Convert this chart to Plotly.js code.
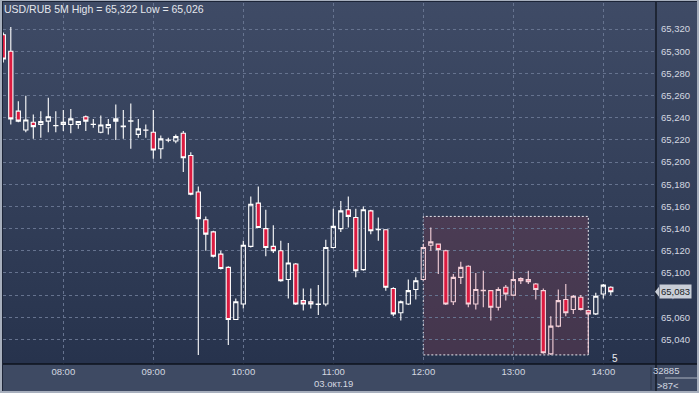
<!DOCTYPE html>
<html>
<head>
<meta charset="utf-8">
<script src="https://cdn.plot.ly/plotly-3.0.1.min.js"></script>
<style>
  html, body { margin:0; padding:0; background:#2b3750; }
  #wrap { position:relative; width:699px; height:393px; overflow:hidden;
          background:linear-gradient(to bottom, #3f4b66 0%, #34405a 45%, #27334d 92%, #27334d 100%); }
  #band { position:absolute; left:0; top:364px; width:699px; height:29px; background:#3e4a63; }
  #chart { position:absolute; left:0; top:0; width:699px; height:393px; }
  #frame { position:absolute; left:0; top:0; width:699px; height:393px; box-sizing:border-box;
           border:1px solid #a7afbd; border-left-width:2px; border-bottom-width:2px; border-right-width:2px;
           box-shadow: inset 0 1px 0 #1c2437, inset 1px 0 0 #1c2437; pointer-events:none; }
</style>
</head>
<body>
<div id="wrap">
  <div id="band"></div>
  <div id="chart"></div>
  <div id="frame"></div>
</div>
<script>
// ---- data (USD/RUB, 5-minute candles, 03.10.2019) ----
const day = '2019-10-03';
const times = ['07:20','07:25','07:30','07:35','07:40','07:45','07:50','07:55',
  '08:00','08:05','08:10','08:15','08:20','08:25','08:30','08:35','08:40','08:45','08:50','08:55',
  '09:00','09:05','09:10','09:15','09:20','09:25','09:30','09:35','09:40','09:45','09:50','09:55',
  '10:00','10:05','10:10','10:15','10:20','10:25','10:30','10:35','10:40','10:45','10:50','10:55',
  '11:00','11:05','11:10','11:15','11:20','11:25','11:30','11:35','11:40','11:45','11:50','11:55',
  '12:00','12:05','12:10','12:15','12:20','12:25','12:30','12:35','12:40','12:45','12:50','12:55',
  '13:00','13:05','13:10','13:15','13:20','13:25','13:30','13:35','13:40','13:45','13:50','13:55',
  '14:00','14:05'];
const open = [65.315,65.300,65.246,65.229,65.236,65.234,65.237,65.233,
  65.234,65.234,65.234,65.241,65.234,65.227,65.231,65.237,65.232,65.237,65.225,65.229,
  65.227,65.212,65.220,65.219,65.226,65.206,65.173,65.148,65.137,65.117,65.105,65.058,
  65.072,65.124,65.163,65.140,65.124,65.120,65.094,65.108,65.075,65.074,65.072,65.072,
  65.123,65.140,65.157,65.150,65.103,65.156,65.139,65.139,65.086,65.064,65.072,65.085,
  65.094,65.125,65.126,65.120,65.074,65.096,65.106,65.072,65.084,65.084,65.069,65.087,
  65.080,65.095,65.094,65.090,65.084,65.027,65.052,65.076,65.067,65.078,65.066,65.063,
  65.081,65.087];
const high = [65.317,65.322,65.255,65.260,65.243,65.246,65.258,65.246,
  65.247,65.248,65.237,65.242,65.239,65.242,65.239,65.252,65.247,65.253,65.239,65.234,
  65.247,65.224,65.222,65.225,65.228,65.209,65.178,65.151,65.138,65.120,65.106,65.077,
  65.129,65.169,65.178,65.157,65.143,65.129,65.127,65.109,65.086,65.086,65.089,65.130,
  65.158,65.165,65.169,65.158,65.160,65.157,65.150,65.139,65.087,65.075,65.094,65.096,
  65.126,65.141,65.126,65.121,65.099,65.110,65.107,65.100,65.102,65.084,65.087,65.089,
  65.102,65.096,65.102,65.091,65.086,65.061,65.085,65.090,65.080,65.080,65.067,65.082,
  65.090,65.088];
const low = [65.290,65.234,65.236,65.227,65.221,65.222,65.227,65.227,
  65.228,65.226,65.230,65.228,65.231,65.226,65.225,65.220,65.221,65.212,65.222,65.222,
  65.203,65.203,65.218,65.217,65.191,65.170,65.026,65.120,65.114,65.103,65.035,65.058,
  65.068,65.123,65.141,65.115,65.118,65.092,65.077,65.071,65.066,65.068,65.062,65.070,
  65.122,65.137,65.141,65.096,65.102,65.135,65.129,65.084,65.061,65.057,65.071,65.076,
  65.093,65.120,65.099,65.071,65.071,65.090,65.069,65.067,65.069,65.057,65.066,65.075,
  65.079,65.090,65.090,65.076,65.027,65.026,65.051,65.061,65.063,65.066,65.027,65.062,
  65.077,65.080];
const close = [65.293,65.239,65.237,65.238,65.232,65.2365,65.241,65.2328,
  65.236,65.239,65.2365,65.237,65.2342,65.2335,65.234,65.239,65.2325,65.2372,65.230,65.2288,
  65.211,65.221,65.2198,65.223,65.204,65.171,65.149,65.135,65.115,65.104,65.058,65.074,
  65.125,65.162,65.141,65.123,65.120,65.093,65.109,65.072,65.072,65.072,65.0715,65.123,
  65.142,65.156,65.151,65.102,65.157,65.138,65.1393,65.087,65.063,65.074,65.084,65.093,
  65.123,65.128,65.121,65.072,65.096,65.105,65.072,65.085,65.0843,65.069,65.085,65.081,
  65.094,65.093,65.092,65.085,65.028,65.052,65.075,65.064,65.079,65.067,65.063,65.079,
  65.089,65.083];
const zoneStart = '12:00', zoneEnd = '13:50';
const zoneTop = 65.151, zoneBottom = 65.026;
const hourTicks = ['08:00','09:00','10:00','11:00','12:00','13:00','14:00'];
const priceTicks = [65.04,65.06,65.08,65.10,65.12,65.14,65.16,65.18,65.20,65.22,65.24,65.26,65.28,65.30,65.32];
const dateLabel = '03.окт.19';
const volumeText = '32885', spreadText = '>87<', countText = '5';

// ---- helpers ----
const ts = t => day + ' ' + t + ':00';
const fmt = v => v.toFixed(3).replace('.', ',');
const W = 699, H = 393, L = 3, R = 43, T = 3, B = 29;
const pw = W - L - R, ph = H - T - B;
const px = x => (x - L) / pw;          // pixel -> paper x
const py = y => (H - B - y) / ph;      // pixel -> paper y

function subset(pred) {
  const o = {x:[], open:[], high:[], low:[], close:[]};
  times.forEach((t, i) => {
    if (pred(t)) { o.x.push(ts(t)); o.open.push(open[i]); o.high.push(high[i]); o.low.push(low[i]); o.close.push(close[i]); }
  });
  return o;
}
const inZone = t => t >= zoneStart && t <= zoneEnd;
const outer = subset(t => !inZone(t));
const inner = subset(inZone);

function candle(d, lineCol) {
  return Object.assign({
    type:'candlestick', whiskerwidth:0, hoverinfo:'skip', showlegend:false,
    increasing:{line:{color:lineCol, width:1.1}, fillcolor:'rgba(0,0,0,0)'},
    decreasing:{line:{color:lineCol, width:1.1}, fillcolor:'#dc1b40'}
  }, d);
}

const hi = Math.max(...high), lo = Math.min(...low);
const last = close[close.length - 1];
const txt = '#d4d8e0';
const font = 'Liberation Sans, Arial, sans-serif';

const layout = {
  width: W, height: H,
  margin: {l:L, r:R, t:T, b:B, pad:0},
  paper_bgcolor:'rgba(0,0,0,0)', plot_bgcolor:'rgba(0,0,0,0)',
  separators: ', ',
  boxgap: 0.2,
  hovermode: false,
  showlegend: false,
  font: {family: font, size: 9, color: txt},
  title: {text: 'USD/RUB 5M High = ' + fmt(hi) + ' Low = ' + fmt(lo),
          x: 4/W, xanchor:'left', xref:'container', y: 1 - 9/H, yanchor:'middle', yref:'container',
          font: {family: font, size: 10.5, color: '#e4e7ed'}},
  xaxis: {
    type:'date', range:[day + ' 07:19:48', day + ' 14:35:08'],
    rangeslider:{visible:false},
    tickvals: hourTicks.map(ts), ticktext: hourTicks,
    showgrid:true, gridcolor:'#66738f', griddash:'3px,3px', gridwidth:1,
    showline:false, zeroline:false, ticks:'',
    tickfont:{family: font, size:9.5, color: txt},
    fixedrange:true
  },
  yaxis: {
    side:'right', range:[65.0178, 65.3436],
    tickvals: priceTicks, tickformat: '.3f',
    showgrid:true, gridcolor:'#66738f', griddash:'3px,3px', gridwidth:1,
    zeroline:false, showline:false, ticks:'', ticklabelstandoff: 4,
    tickfont:{family: font, size:9.5, color: txt},
    fixedrange:true
  },
  shapes: [
    {type:'rect', xref:'x', yref:'y', x0: ts(zoneStart), x1: ts(zoneEnd), y0: zoneBottom, y1: zoneTop,
     fillcolor:'rgba(130,58,78,0.32)', line:{color:'#e8e8ee', width:1, dash:'2px,2px'}, layer:'below'},
    {type:'line', xref:'paper', yref:'paper', x0: px(0), x1: px(W), y0: 0, y1: 0,
     line:{color:'#0e131d', width:1.3}},
    {type:'line', xref:'paper', yref:'paper', x0: px(656), x1: px(656), y0: py(H), y1: py(0),
     line:{color:'#0e131d', width:1.3}},
    {type:'line', xref:'paper', yref:'paper', x0: px(651), x1: px(651), y0: py(367), y1: py(390),
     line:{color:'#2b3448', width:1}},
    {type:'line', xref:'paper', yref:'paper', x0: px(665), x1: px(697), y0: py(378), y1: py(378),
     line:{color:'#aab1bf', width:1}},
    {type:'path', xref:'paper', yref:'y',
     path: 'M ' + px(655) + ',' + last + ' L ' + px(659) + ',' + (last + 0.0045) + ' L ' + px(659) + ',' + (last - 0.0045) + ' Z',
     fillcolor:'#c9ced7', line:{width:0}},
    {type:'path', xref:'paper', yref:'paper',
     path: 'M ' + px(609) + ',' + py(361) + ' L ' + px(612) + ',' + py(357) + ' L ' + px(615) + ',' + py(361) + ' Z',
     fillcolor:'#1d2536', line:{width:0}}
  ],
  annotations: [
    {text: dateLabel, xref:'x', yref:'paper', x: ts('11:00'), y: py(383), yanchor:'middle', showarrow:false,
     font:{family: font, size:9.5, color: txt}},
    {text: fmt(last), xref:'paper', yref:'y', x: px(659), y: last, xanchor:'left', yanchor:'middle',
     showarrow:false, bgcolor:'#c9ced7', borderpad:1, font:{family: font, size:9.5, color:'#1a1e27'}},
    {text: countText, xref:'paper', yref:'paper', x: px(620), y: py(358), yanchor:'middle', showarrow:false,
     font:{family: font, size:10, color:'#e8ebf0'}},
    {text: volumeText, xref:'paper', yref:'paper', x: px(681), y: py(370), yanchor:'middle', showarrow:false,
     font:{family: font, size:9.5, color: txt}},
    {text: spreadText, xref:'paper', yref:'paper', x: px(681), y: py(385), yanchor:'middle', showarrow:false,
     font:{family: font, size:9.5, color: txt}}
  ]
};

Plotly.newPlot('chart', [candle(outer, '#ffffff'), candle(inner, '#f6d2da')], layout,
  {staticPlot:true, displayModeBar:false});
</script>
</body>
</html>
